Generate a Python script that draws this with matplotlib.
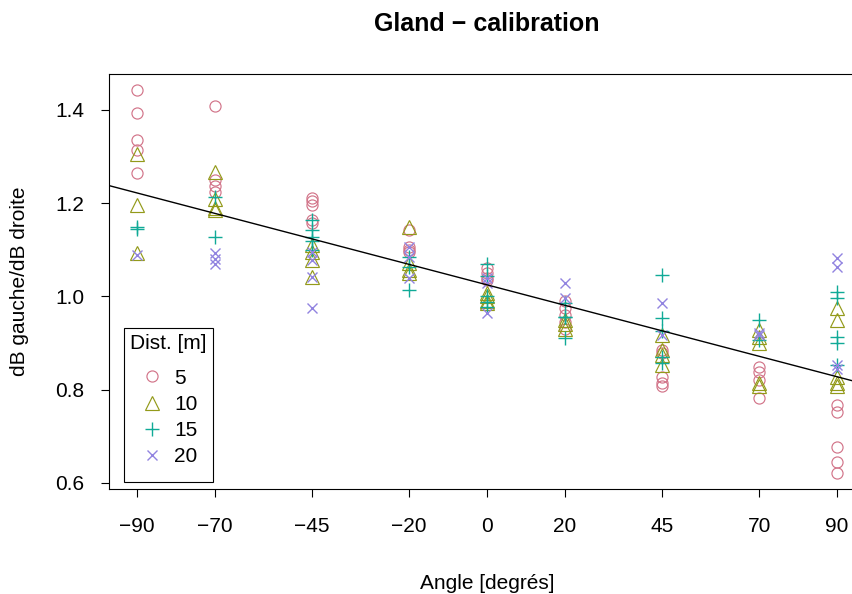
import matplotlib
matplotlib.use("Agg")
import matplotlib.pyplot as plt
from matplotlib.offsetbox import VPacker, DrawingArea
import numpy as np

plt.rcParams['font.family'] = ['Liberation Sans', 'DejaVu Sans']

# ---- data ----
angle_ticks = [-90, -70, -45, -20, 0, 20, 45, 70, 90]
angle_tick_labels = ["−90", "−70", "−45", "−20", "0", "20", "45", "70", "90"]

# distance 5 m (circles)
d5_angle = [-90]*5 + [-70]*4 + [-45]*5 + [-20]*4 + [0]*4 + [20]*5 + [45]*5 + [70]*4 + [90]*5
d5_value = [1.443, 1.393, 1.335, 1.315, 1.265,
            1.409, 1.250, 1.237, 1.225,
            1.211, 1.204, 1.196, 1.164, 1.158,
            1.143, 1.107, 1.100, 1.095,
            1.061, 1.050, 1.040, 1.035,
            0.990, 0.975, 0.960, 0.945, 0.930,
            0.885, 0.878, 0.828, 0.814, 0.807,
            0.849, 0.839, 0.821, 0.782,
            0.767, 0.753, 0.678, 0.646, 0.621]

# distance 10 m (triangles)
d10_angle = [-90]*3 + [-70]*4 + [-45]*4 + [-20]*4 + [0]*4 + [20]*3 + [45]*4 + [70]*5 + [90]*5
d10_value = [1.306, 1.196, 1.093,
             1.268, 1.210, 1.190, 1.185,
             1.110, 1.096, 1.078, 1.042,
             1.150, 1.071, 1.057, 1.050,
             1.007, 1.000, 0.990, 0.985,
             0.950, 0.940, 0.930,
             0.917, 0.885, 0.875, 0.853,
             0.928, 0.914, 0.900, 0.814, 0.807,
             0.975, 0.950, 0.828, 0.814, 0.807]

# distance 15 m (plus)
d15_angle = [-90]*2 + [-70]*2 + [-45]*5 + [-20]*3 + [0]*5 + [20]*4 + [45]*5 + [70]*2 + [90]*5
d15_value = [1.148, 1.145,
             1.214, 1.128,
             1.164, 1.143, 1.128, 1.118, 1.100,
             1.085, 1.064, 1.014,
             1.069, 1.045, 1.000, 0.989, 0.978,
             0.986, 0.957, 0.955, 0.910,
             1.046, 0.953, 0.925, 0.871, 0.857,
             0.950, 0.907,
             1.010, 0.996, 0.914, 0.900, 0.853]

# distance 20 m (crosses)
d20_angle = [-90]*1 + [-70]*3 + [-45]*4 + [-20]*3 + [0]*3 + [20]*2 + [45]*2 + [70]*2 + [90]*4
d20_value = [1.089,
             1.093, 1.080, 1.070,
             1.096, 1.078, 1.042, 0.975,
             1.107, 1.085, 1.039,
             1.040, 1.030, 0.964,
             1.028, 0.996,
             0.985, 0.917,
             0.921, 0.917,
             1.082, 1.064, 0.853, 0.845]

distances = ["5", "10", "15", "20"]

# regression line
line_intercept = 1.025
line_slope = -0.00219

# ---- figure ----
W, H = 853, 594
fig = plt.figure(figsize=(W/100, H/100), dpi=100)
ax_l, ax_r, ax_t, ax_b = 109, 865, 74, 489
ax = fig.add_axes([ax_l/W, 1 - ax_b/H, (ax_r-ax_l)/W, (ax_b-ax_t)/H])

colors = ["#D27489", "#939A1A", "#10AA97", "#9183E0"]
markers = ["o", "^", "+", "x"]
msizes = [8, 10, 10, 7.5]
series = [(d5_angle, d5_value), (d10_angle, d10_value),
          (d15_angle, d15_value), (d20_angle, d20_value)]

handles = []
for (xa, ya), c, m, ms, lab in zip(series, colors, markers, msizes, distances):
    if m in ("o", "^"):
        h, = ax.plot(xa, ya, linestyle="none", marker=m, markersize=ms,
                     markerfacecolor="none", markeredgecolor=c, markeredgewidth=0.85, label=lab)
    else:
        h, = ax.plot(xa, ya, linestyle="none", marker=m, markersize=ms,
                     color=c, markeredgewidth=1.0, label=lab)
    handles.append(h)

ax.axline((0, line_intercept), slope=line_slope, color="black", lw=1.0)

ax.set_xlim(-97.2, 97.2)
ax.set_ylim(0.5871, 1.4772)

FS = 15
ax.set_xticks(angle_ticks)
ax.set_xticklabels(angle_tick_labels)
ax.set_yticks([0.6, 0.8, 1.0, 1.2, 1.4])
ax.set_yticklabels(["0.6", "0.8", "1.0", "1.2", "1.4"])
ax.tick_params(axis="both", direction="out", length=5.5, width=0.8, labelsize=FS, color="black")
ax.tick_params(axis="x", pad=15)
ax.tick_params(axis="y", pad=12)
for s in ax.spines.values():
    s.set_linewidth(0.8)
ax.spines["right"].set_visible(False)

ax.set_xlabel("Angle [degrés]", fontsize=FS, labelpad=27)
ax.set_ylabel("dB gauche/dB droite", fontsize=FS, labelpad=19)
ax.set_title("Gland − calibration", fontsize=18, fontweight="bold", pad=31)

leg = ax.legend(handles=handles, title="Dist. [m]", loc="lower left",
                bbox_to_anchor=((124-ax_l)/(ax_r-ax_l), (ax_b-482)/(ax_b-ax_t)),
                frameon=True, fancybox=False, edgecolor="black", framealpha=1,
                fontsize=FS, title_fontsize=FS, alignment="left",
                handlelength=2.1, handletextpad=0.0, labelspacing=0.35,
                borderpad=0.3, borderaxespad=0)
leg.get_frame().set_linewidth(0.8)
# spacing tweaks: extra gap under the title and at the bottom of the box
lb = leg._legend_box
title_box = lb._children[0]
lb._children[0] = VPacker(children=[title_box, DrawingArea(0, 4.3)], sep=0, pad=0, align="left")
lb._children.append(DrawingArea(0, 0))
lb.sep = 6.7

fig.savefig("out.png", dpi=100)
